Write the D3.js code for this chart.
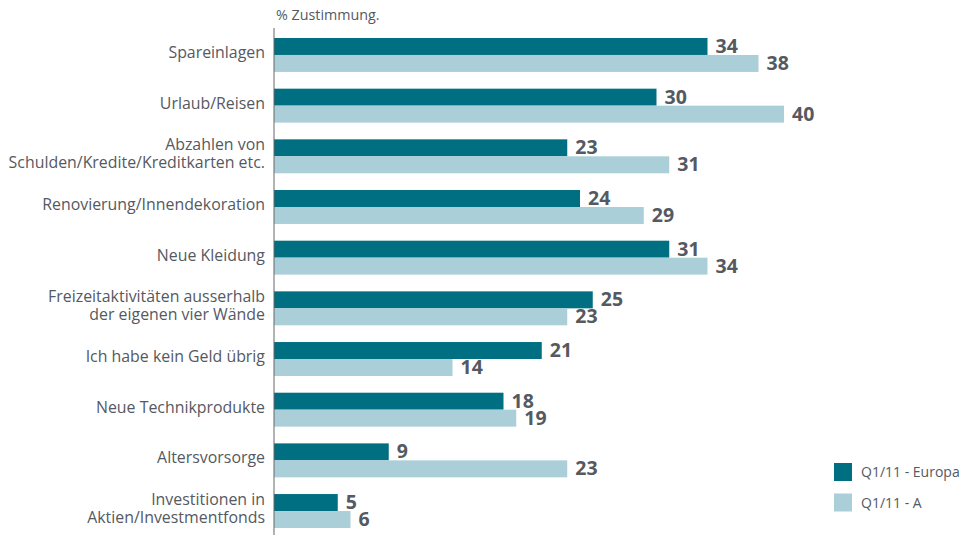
<!DOCTYPE html>
<html><head><meta charset="utf-8">
<script src="https://cdn.jsdelivr.net/npm/d3@7"></script>
<style>body{margin:0;background:#fff;} svg{display:block;}</style>
</head><body>
<svg id="c" width="960" height="535"></svg>
<script>
const categories = [
  ["Spareinlagen"],
  ["Urlaub/Reisen"],
  ["Abzahlen von", "Schulden/Kredite/Kreditkarten etc."],
  ["Renovierung/Innendekoration"],
  ["Neue Kleidung"],
  ["Freizeitaktivitäten ausserhalb", "der eigenen vier Wände"],
  ["Ich habe kein Geld übrig"],
  ["Neue Technikprodukte"],
  ["Altersvorsorge"],
  ["Investitionen in", "Aktien/Investmentfonds"]
];
const seriesNames = ["Q1/11 - Europa", "Q1/11 - A"];
const europa = [34, 30, 23, 24, 31, 25, 21, 18, 9, 5];
const austria = [38, 40, 31, 29, 34, 23, 14, 19, 23, 6];
const colors = ["#006f81", "#abcfd8"];
const axisTitle = "% Zustimmung.";

const svg = d3.select("#c");
const font = "'Open Sans', sans-serif";
const textCol = "#555961";
const x0 = 274;
const x = d3.scaleLinear().domain([0, 40]).range([x0, 784]);
const pi = 0.33;
const step = 50.7;
const y = d3.scaleBand().domain(d3.range(categories.length))
  .range([38 - step*pi/2, 528 + step*pi/2]).paddingInner(pi).paddingOuter(pi/2);
const half = y.bandwidth()/2;

const data = categories.map((c, i) => ({i, vals: [europa[i], austria[i]]}));

const g = svg.append("g");
data.forEach(d => {
  d.vals.forEach((v, s) => {
    const yy = y(d.i) + s*half;
    g.append("rect").attr("x", x(0)).attr("y", yy)
      .attr("width", x(v) - x(0)).attr("height", half).attr("fill", colors[s]);
    g.append("text").attr("x", x(v) + 8).attr("y", yy + half/2 + 6.5)
      .attr("font-family", font).attr("font-weight", 700).attr("font-size", 19.5)
      .attr("fill", textCol).text(v);
  });
  const lines = categories[d.i];
  const cy = y(d.i) + half;
  const lh = 18.3;
  lines.forEach((t, k) => {
    g.append("text").attr("x", 265)
      .attr("y", cy + (k - (lines.length-1)/2)*lh + 3)
      .attr("text-anchor", "end").attr("font-family", font).attr("font-size", 15.9)
      .attr("fill", textCol).text(t);
  });
});

svg.append("line").attr("x1", x0).attr("x2", x0).attr("y1", 28).attr("y2", 535)
  .attr("stroke", "#666").attr("stroke-width", 1);

svg.append("text").attr("x", 276).attr("y", 20).attr("font-family", font)
  .attr("font-size", 14.3).attr("fill", textCol).text(axisTitle);

seriesNames.forEach((n, s) => {
  const ly = 463 + s*30.5;
  svg.append("rect").attr("x", 834).attr("y", ly).attr("width", 18).attr("height", 18).attr("fill", colors[s]);
  svg.append("text").attr("x", 861).attr("y", ly + 14).attr("font-family", font)
    .attr("font-size", 14).attr("fill", textCol).text(n);
});
</script>
</body></html>
